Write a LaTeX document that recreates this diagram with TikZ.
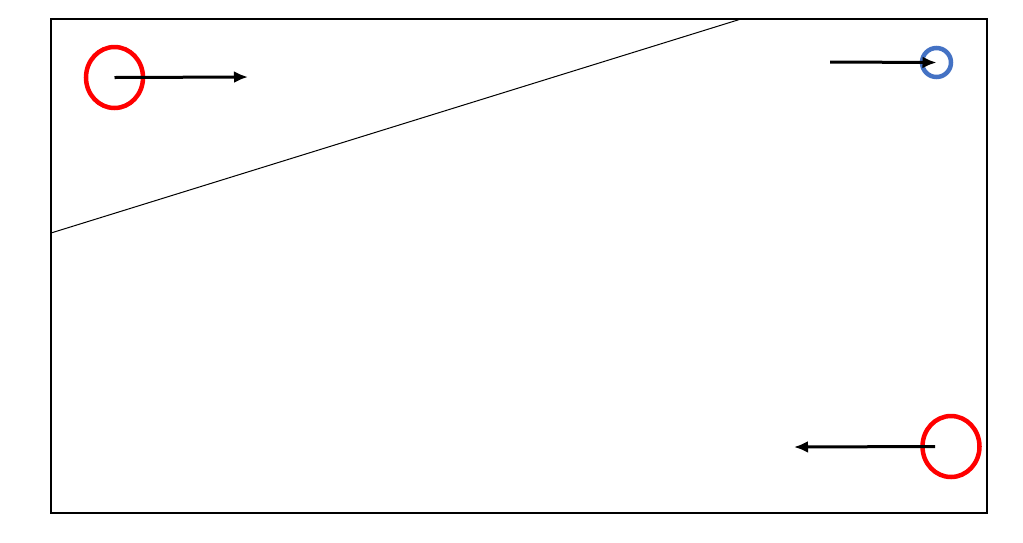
\documentclass[tikz,border=0pt]{standalone}
\usetikzlibrary{shapes, arrows.meta}
\definecolor{MarkRed}{RGB}{255,0,0}
\definecolor{MarkBlue}{RGB}{68,114,196}
\tikzset{
	redmark/.style={ellipse, draw=MarkRed, line width=4.5pt, minimum width=57pt, minimum height=61pt, inner sep=0pt},
	bluemark/.style={circle, draw=MarkBlue, line width=4.5pt, minimum size=29pt, inner sep=0pt},
	move/.style={-{Latex[length=14pt,width=12pt]}, line width=3pt},
}
\begin{document}
\begin{tikzpicture}[x=1pt, y=-1pt]
	\useasboundingbox (0,0) rectangle (1023,542);
	\draw[line width=2pt] (51,19) rectangle (987,513);
	\draw[line width=1pt] (51,233) -- (741,19);

	\node[redmark] (startA) at (114.5,77.5) {};
	\coordinate (endA) at (248,77);
	\draw[move] (startA.center) -- (endA);

	\node[bluemark] (target) at (936.5,62.5) {};
	\coordinate (startB) at (830,62);
	\draw[move] (startB) -- (target.center);

	\node[redmark] (startC) at (951,446.5) {};
	\coordinate (endC) at (794,447);
	\draw[move] (startC.center) ++(-16,0) -- (endC);
\end{tikzpicture}
\end{document}
